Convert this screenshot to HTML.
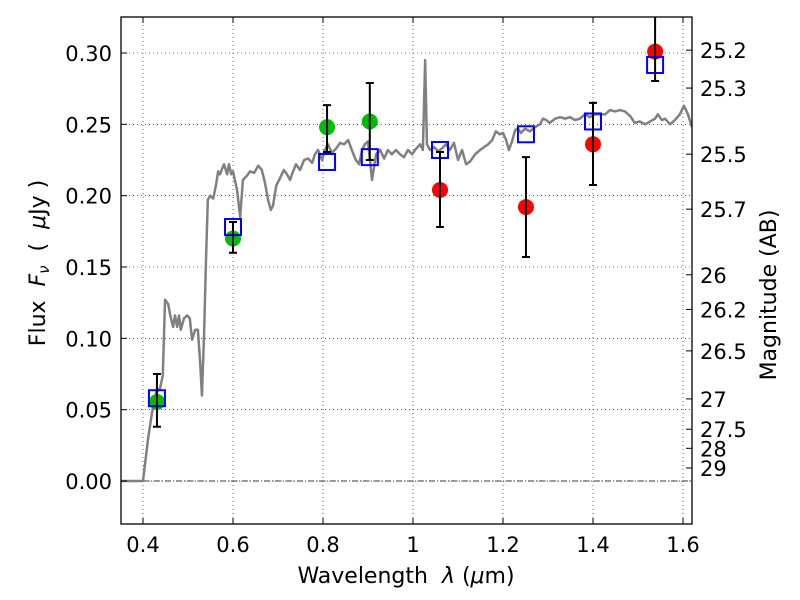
<!DOCTYPE html>
<html><head><meta charset="utf-8"><style>body{margin:0;background:#fff}svg{display:block}text{font-family:"DejaVu Sans","Liberation Sans",sans-serif;fill:#000;white-space:pre}</style></head>
<body>
<svg id="chart" width="800" height="600" xmlns="http://www.w3.org/2000/svg">
<rect width="800" height="600" fill="#fff"/>
<g id="grid"></g>
<line x1="121" y1="481" x2="692" y2="481" stroke="#000" stroke-width="0.8" stroke-dasharray="6,2,1,2"/>
<clipPath id="cp"><rect x="121" y="17" width="571" height="507"/></clipPath>
<g id="marks" clip-path="url(#cp)"></g>
<rect x="121" y="17" width="571" height="507" fill="none" stroke="#000" stroke-width="1.3"/>
<g id="axes"></g>
<text x="406" y="583" font-size="22" text-anchor="middle" xml:space="preserve">Wavelength  <tspan font-style="italic">λ</tspan> (<tspan font-style="italic">μ</tspan>m)</text>
<text transform="translate(45,263) rotate(-90)" font-size="22" text-anchor="middle" xml:space="preserve">Flux  <tspan font-style="italic">F</tspan><tspan font-style="italic" font-size="15" dy="4">ν</tspan><tspan dy="-4">  (  </tspan><tspan font-style="italic">μ</tspan>Jy )</text>
<text transform="translate(776,295) rotate(-90)" font-size="22" text-anchor="middle">Magnitude (AB)</text>
</svg>
<script>
const specWave=[0.351,0.400,0.411,0.420,0.429,0.438,0.444,0.449,0.456,0.462,0.467,0.471,0.476,0.480,0.484,0.491,0.498,0.504,0.509,0.516,0.522,0.527,0.531,0.536,0.540,0.544,0.549,0.556,0.562,0.567,0.571,0.576,0.580,0.587,0.591,0.596,0.600,0.609,0.616,0.622,0.631,0.638,0.647,0.656,0.664,0.671,0.678,0.684,0.689,0.696,0.704,0.713,0.720,0.727,0.731,0.740,0.749,0.758,0.767,0.776,0.782,0.789,0.798,0.804,0.811,0.820,0.829,0.838,0.847,0.856,0.864,0.873,0.880,0.887,0.893,0.900,0.909,0.918,0.927,0.936,0.944,0.953,0.962,0.971,0.980,0.989,0.998,1.007,1.016,1.022,1.027,1.031,1.038,1.047,1.056,1.064,1.073,1.082,1.091,1.100,1.109,1.118,1.127,1.138,1.149,1.158,1.167,1.176,1.184,1.193,1.200,1.207,1.213,1.220,1.227,1.233,1.240,1.249,1.260,1.271,1.282,1.289,1.296,1.304,1.316,1.327,1.338,1.349,1.360,1.371,1.382,1.393,1.404,1.416,1.427,1.438,1.449,1.460,1.471,1.482,1.493,1.504,1.516,1.527,1.538,1.544,1.553,1.560,1.571,1.582,1.593,1.602,1.611,1.620];
const specFlux=[0,0,0.029,0.048,0.062,0.065,0.074,0.127,0.124,0.114,0.108,0.116,0.108,0.116,0.106,0.114,0.116,0.114,0.099,0.106,0.106,0.083,0.060,0.106,0.155,0.197,0.200,0.198,0.207,0.217,0.215,0.219,0.222,0.215,0.222,0.215,0.217,0.204,0.185,0.211,0.214,0.217,0.216,0.221,0.218,0.209,0.197,0.190,0.193,0.207,0.212,0.218,0.215,0.211,0.215,0.222,0.218,0.225,0.226,0.223,0.229,0.232,0.225,0.232,0.236,0.230,0.233,0.237,0.236,0.239,0.232,0.225,0.222,0.232,0.236,0.238,0.211,0.229,0.232,0.226,0.232,0.229,0.232,0.229,0.227,0.232,0.229,0.233,0.236,0.232,0.295,0.236,0.232,0.234,0.231,0.233,0.236,0.232,0.237,0.225,0.232,0.222,0.224,0.229,0.232,0.234,0.236,0.239,0.245,0.243,0.244,0.239,0.232,0.238,0.246,0.247,0.244,0.247,0.245,0.248,0.250,0.254,0.253,0.251,0.254,0.255,0.254,0.255,0.253,0.254,0.257,0.255,0.257,0.257,0.257,0.260,0.259,0.260,0.259,0.256,0.251,0.252,0.250,0.252,0.254,0.257,0.253,0.254,0.250,0.253,0.257,0.263,0.257,0.248];
const obsWave=[0.431,0.600,0.809,0.904,1.060,1.251,1.400,1.538];
const obsFlux=[0.0554,0.170,0.248,0.252,0.204,0.192,0.236,0.301];
const obsColor=["#00bb00","#00bb00","#00bb00","#00bb00","#ff0000","#ff0000","#ff0000","#ff0000"];
const errLow=[0.038,0.160,0.2306,0.225,0.178,0.157,0.2075,0.2804];
const errHigh=[0.075,0.1815,0.2635,0.279,0.2306,0.227,0.265,0.34];
const modelFlux=[0.058,0.178,0.2236,0.227,0.232,0.243,0.252,0.2916];
const xTicks=[0.4,0.6,0.8,1.0,1.2,1.4,1.6];
const xTickLabels=["0.4","0.6","0.8","1","1.2","1.4","1.6"];
const yTicks=[0,0.05,0.10,0.15,0.20,0.25,0.30];
const yTickLabels=["0.00","0.05","0.10","0.15","0.20","0.25","0.30"];
const magTicks=[25.2,25.3,25.5,25.7,26,26.2,26.5,27,27.5,28,29];
const magLabels=["25.2","25.3","25.5","25.7","26","26.2","26.5","27","27.5","28","29"];
const NS="http://www.w3.org/2000/svg";
const X=v=>143+(v-0.4)*450, Y=v=>481-v*1426.7;
function mk(t,a,p){const e=document.createElementNS(NS,t);for(const k in a)e.setAttribute(k,a[k]);p.appendChild(e);return e;}
const grid=document.getElementById('grid'),marks=document.getElementById('marks'),axes=document.getElementById('axes');
xTicks.forEach((v,i)=>{
 const g=mk('line',{x1:X(v),x2:X(v),y1:17,y2:524,stroke:'#000','stroke-width':0.6,'stroke-dasharray':'1,3'},grid);
 
 
 mk('line',{x1:X(v),x2:X(v),y1:524,y2:518,stroke:'#000'},axes);
 mk('line',{x1:X(v),x2:X(v),y1:17,y2:23,stroke:'#000'},axes);
 const t=mk('text',{x:X(v),y:552,'font-size':21,'text-anchor':'middle'},axes);t.textContent=xTickLabels[i];
 
 
});
yTicks.forEach((v,i)=>{
 const g=mk('line',{x1:121,x2:692,y1:Y(v),y2:Y(v),stroke:'#000','stroke-width':0.6,'stroke-dasharray':'1,3'},grid);
 
 
 mk('line',{x1:121,x2:127,y1:Y(v),y2:Y(v),stroke:'#000'},axes);
 const t=mk('text',{x:112,y:Y(v)+8,'font-size':21,'text-anchor':'end'},axes);t.textContent=yTickLabels[i];
 
 
});
magTicks.forEach((m,i)=>{
 const y=Y(Math.pow(10,(23.9-m)/2.5));
 mk('line',{x1:686,x2:692,y1:y,y2:y,stroke:'#000'},axes);
 const t=mk('text',{x:700,y:y+8,'font-size':21},axes);t.textContent=magLabels[i];
 
 
});
const sp=mk('polyline',{points:specWave.map((w,i)=>X(w)+','+Y(specFlux[i])).join(' '),fill:'none',stroke:'#808080','stroke-width':2.5,'stroke-linejoin':'round'},marks);


obsWave.forEach((w,i)=>{
 const c=mk('circle',{cx:X(w),cy:Y(obsFlux[i]),r:8,fill:obsColor[i]},marks);
 
 
 const s=mk('rect',{x:X(w)-8,y:Y(modelFlux[i])-8,width:16,height:16,fill:'none',stroke:'#0000ff','stroke-width':2},marks);
 
 
 const e=mk('path',{d:`M${X(w)},${Y(errHigh[i])}V${Y(errLow[i])}M${X(w)-4},${Y(errHigh[i])}h8M${X(w)-4},${Y(errLow[i])}h8`,stroke:'#000','stroke-width':2,fill:'none'},marks);
 
 
});
</script>
</body></html>
